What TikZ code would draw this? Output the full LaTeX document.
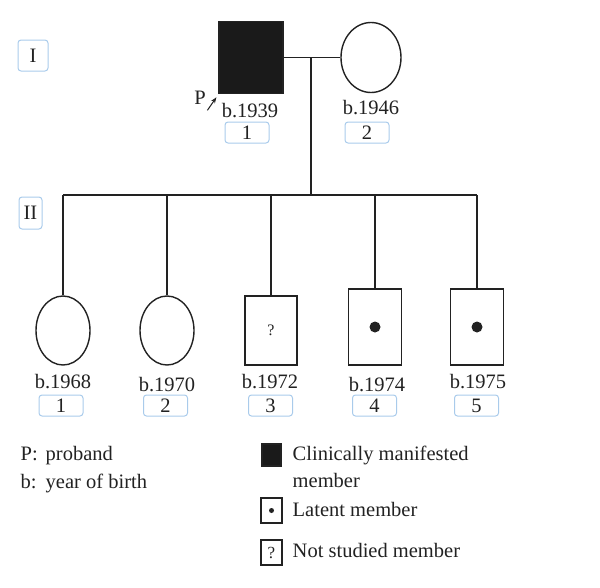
\documentclass[tikz,border=0pt]{standalone}
\usepackage{fontspec}
\setmainfont{Liberation Serif}
\usetikzlibrary{shapes.geometric,arrows.meta}
\definecolor{boxblue}{HTML}{A9CBEB}
\definecolor{ink}{HTML}{222222}
\definecolor{affected}{HTML}{1A1A1A}
\begin{document}
\begin{tikzpicture}[x=1pt,y=-1pt,line width=1.4pt,draw=ink,
  every node/.style={font=\fontsize{20.5}{24}\selectfont,text=ink},
  male/.style={draw=ink,rectangle,inner sep=0pt},
  female/.style={draw=ink,ellipse,inner sep=0pt},
  idbox/.style={draw=boxblue,line width=1pt,rounded corners=3pt,minimum width=44pt,minimum height=21pt,inner sep=0pt},
  lbl/.style={anchor=base,inner sep=0pt},
  key/.style={anchor=base west,inner sep=0pt},
  small/.style={font=\fontsize{16}{18}\selectfont}]
\useasboundingbox (0,0) rectangle (600,587);

% generation labels
\node[idbox,minimum width=30pt,minimum height=31pt] (genI) at (33,55.5) {I};
\node[idbox,minimum width=23pt,minimum height=32pt] (genII) at (30.5,213) {II};

% generation I
\node[male,fill=affected,minimum width=64pt,minimum height=72pt] (I1) at (251,57.5) {};
\node[female,minimum width=60pt,minimum height=70pt] (I2) at (371,57.5) {};
\draw (I1.east) -- (I2.west);
\node[lbl] (P) at (200,104) {P};
\draw[-{Stealth[length=6pt,width=4.5pt]},line width=1pt] ([shift={(1,13)}]P.east) -- ++(9,-13);
\node[lbl] (yI1) at (250,117) {b.1939};
\node[lbl] (yI2) at (371,114) {b.1946};
\node[idbox] (nI1) at (247,132.5) {1};
\node[idbox] (nI2) at (367,132.5) {2};

% generation II
\node[female,minimum width=54pt,minimum height=69pt] (II1) at (63,330.5) {};
\node[female,minimum width=54pt,minimum height=69pt] (II2) at (167,330.5) {};
\node[male,small,minimum width=52pt,minimum height=69pt] (II3) at (271,330.5) {?};
\node[male,minimum width=53pt,minimum height=76pt] (II4) at (375,327) {};
\node[male,minimum width=53pt,minimum height=76pt] (II5) at (477,327) {};
\fill[ink] (II4) circle (5.5);
\fill[ink] (II5) circle (5.5);

% descent and sibship lines
\coordinate (mid) at (311,57.5);
\coordinate (sib) at (311,195);
\draw (mid) -- (sib);
\draw (II1.north |- sib) -- (II5.north |- sib);
\foreach \c in {II1,II2,II3,II4,II5}
  \draw (\c.north |- sib) -- (\c.north);

\node[lbl] (yII1) at (63,388) {b.1968};
\node[lbl] (yII2) at (167,391) {b.1970};
\node[lbl] (yII3) at (270,388) {b.1972};
\node[lbl] (yII4) at (377,391) {b.1974};
\node[lbl] (yII5) at (478,388) {b.1975};
\node[idbox] (nII1) at (61,405.5) {1};
\node[idbox] (nII2) at (165.5,405.5) {2};
\node[idbox] (nII3) at (270.5,405.5) {3};
\node[idbox] (nII4) at (374.5,405.5) {4};
\node[idbox] (nII5) at (476.5,405.5) {5};

% legend
\node[key] (kP) at (20,460) {P:};
\node[key] (kPt) at (45,460) {proband};
\node[key] (kb) at (20,488) {b:};
\node[key] (kbt) at (45,488) {year of birth};
\node[male,fill=affected,minimum width=19pt,minimum height=22pt] (k1) at (271.5,455) {};
\node[key] (k1t) at (292,460) {Clinically manifested};
\node[key] (k1u) at (292,487) {member};
\node[male,minimum width=21pt,minimum height=25pt] (k2) at (271.5,510.5) {};
\fill[ink] (k2) circle (2.5);
\node[key] (k2t) at (292,516) {Latent member};
\node[male,font=\fontsize{17}{19}\selectfont,minimum width=21pt,minimum height=25pt] (k3) at (271.5,552.5) {?};
\node[key] (k3t) at (292,557) {Not studied member};
\end{tikzpicture}
\end{document}
